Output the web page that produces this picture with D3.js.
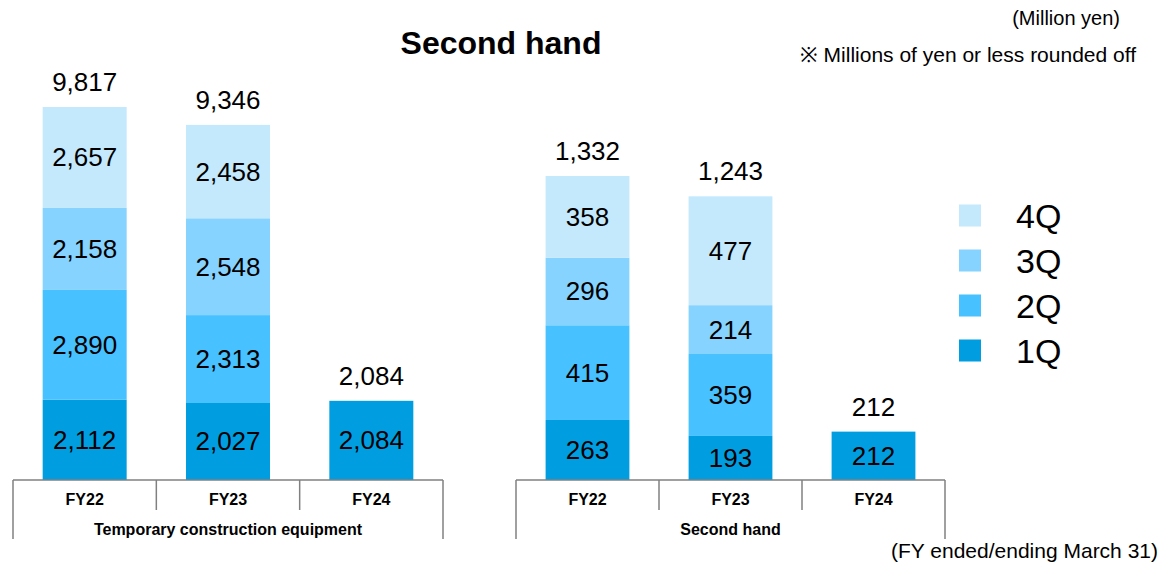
<!DOCTYPE html>
<html>
<head>
<meta charset="utf-8">
<script src="https://cdn.jsdelivr.net/npm/d3@7"></script>
<style>
  html, body { margin: 0; padding: 0; background: #fff; }
  svg { display: block; font-family: "Liberation Sans", Arial, Helvetica, sans-serif; }
</style>
</head>
<body>
<svg id="chart" width="1161" height="565"></svg>
<script>
// ---- data ----
const years = ["FY22", "FY23", "FY24"];
const quarters = ["1Q", "2Q", "3Q", "4Q"];
const groupNames = ["Temporary construction equipment", "Second hand"];
// values per year: [1Q, 2Q, 3Q, 4Q]
const tempEquipment = [
  [2112, 2890, 2158, 2657],
  [2027, 2313, 2548, 2458],
  [2084]
];
const secondHand = [
  [263, 415, 296, 358],
  [193, 359, 214, 477],
  [212]
];
const tempTotals = [9817, 9346, 2084];
const secondTotals = [1332, 1243, 212];
const colors = { "1Q": "#009EE0", "2Q": "#47C1FF", "3Q": "#86D3FF", "4Q": "#C4E9FD" };

const svg = d3.select("#chart");
const fmt = d3.format(",");
const baseY = 480;

const panels = [
  { name: groupNames[0], data: tempEquipment, totals: tempTotals, x0: 13, x1: 443, yTop: 107 },
  { name: groupNames[1], data: secondHand, totals: secondTotals, x0: 516, x1: 945, yTop: 176 }
];

panels.forEach(p => {
  const g = svg.append("g");
  const cell = d3.scaleBand().domain(years).range([p.x0, p.x1]).padding(0);
  const band = d3.scaleBand().domain(years).range([p.x0, p.x1]).paddingInner(0.414).paddingOuter(0.207);
  const y = d3.scaleLinear().domain([0, d3.max(p.totals)]).range([baseY, p.yTop]);

  years.forEach((yr, i) => {
    const vals = p.data[i];
    let acc = 0;
    const segs = vals.map((v, qi) => { const s = { q: quarters[qi], v, lo: acc, hi: acc + v }; acc += v; return s; });
    const bg = g.append("g");
    bg.selectAll("rect").data(segs).join("rect")
      .attr("x", band(yr)).attr("width", band.bandwidth())
      .attr("y", d => y(d.hi)).attr("height", d => y(d.lo) - y(d.hi))
      .attr("fill", d => colors[d.q]);
    bg.selectAll("text.seg").data(segs).join("text").attr("class", "seg")
      .attr("x", band(yr) + band.bandwidth() / 2)
      .attr("y", d => (y(d.lo) + y(d.hi)) / 2)
      .attr("text-anchor", "middle").attr("dominant-baseline", "central")
      .attr("font-size", 26).attr("fill", "#000")
      .text(d => fmt(d.v));
    g.append("text")
      .attr("x", band(yr) + band.bandwidth() / 2)
      .attr("y", y(p.totals[i]) - 16)
      .attr("text-anchor", "middle").attr("font-size", 26).attr("fill", "#000")
      .text(fmt(p.totals[i]));
  });

  // category axis table
  const lineColor = "#808080";
  g.append("line").attr("x1", p.x0).attr("x2", p.x1).attr("y1", baseY).attr("y2", baseY)
    .attr("stroke", lineColor).attr("stroke-width", 1.5);
  const bounds = years.map(yr => cell(yr)).concat([p.x1]);
  bounds.forEach((bx, i) => {
    const outer = (i === 0 || i === bounds.length - 1);
    g.append("line").attr("x1", bx).attr("x2", bx).attr("y1", baseY).attr("y2", outer ? 539 : 510)
      .attr("stroke", lineColor).attr("stroke-width", 1.5);
  });
  g.selectAll("text.cat").data(years).join("text").attr("class", "cat")
    .attr("x", d => cell(d) + cell.bandwidth() / 2).attr("y", 505)
    .attr("text-anchor", "middle").attr("font-size", 16).attr("font-weight", "bold")
    .text(d => d);
  g.append("text").attr("x", (p.x0 + p.x1) / 2).attr("y", 535)
    .attr("text-anchor", "middle").attr("font-size", 16).attr("font-weight", "bold")
    .text(p.name);
});

// title and notes
svg.append("text").attr("x", 501).attr("y", 54).attr("text-anchor", "middle")
  .attr("font-size", 32).attr("font-weight", "bold").text("Second hand");
svg.append("text").attr("x", 1120).attr("y", 25).attr("text-anchor", "end")
  .attr("font-size", 20).text("(Million yen)");
svg.append("text").attr("x", 1136).attr("y", 62).attr("text-anchor", "end")
  .attr("font-size", 21).text("※ Millions of yen or less rounded off");
svg.append("text").attr("x", 1158).attr("y", 558).attr("text-anchor", "end")
  .attr("font-size", 21).text("(FY ended/ending March 31)");

// legend
const legendOrder = quarters.slice().reverse();
const ly = d3.scaleBand().domain(legendOrder).range([193, 373]);
const lg = svg.append("g");
lg.selectAll("rect").data(legendOrder).join("rect")
  .attr("x", 959).attr("y", d => ly(d) + ly.bandwidth() / 2 - 11)
  .attr("width", 22).attr("height", 22).attr("fill", d => colors[d]);
lg.selectAll("text").data(legendOrder).join("text")
  .attr("x", 1016).attr("y", d => ly(d) + ly.bandwidth() / 2)
  .attr("dominant-baseline", "central").attr("font-size", 34)
  .text(d => d);
</script>
</body>
</html>
